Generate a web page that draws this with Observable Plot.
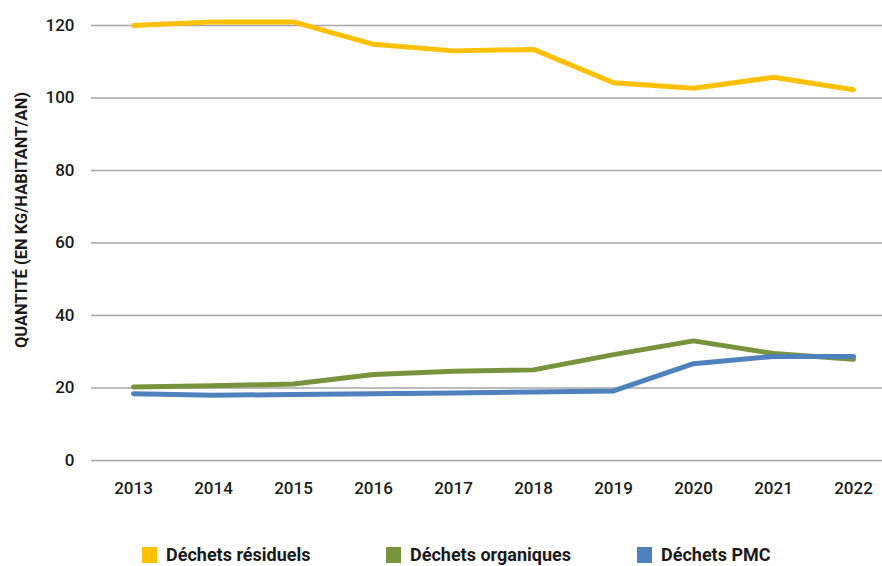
<!DOCTYPE html>
<html>
<head>
<meta charset="utf-8">
<script src="https://cdn.jsdelivr.net/npm/d3@7"></script>
<script src="https://cdn.jsdelivr.net/npm/@observablehq/plot@0.6"></script>
<style>
  html, body { margin: 0; padding: 0; background: #fff; }
  body { width: 882px; height: 566px; overflow: hidden; font-family: Roboto, "DejaVu Sans", sans-serif; }
  #legend { position: relative; height: 26px; font-weight: 700; font-size: 18px; line-height: 20px; color: #1a1a1a; }
  .item { position: absolute; top: 5px; display: flex; align-items: center; }
  .sw { width: 15px; height: 16px; margin-right: 9px; }
</style>
</head>
<body>
<div id="chart"></div>
<div id="legend"></div>
<script>
const years = ["2013","2014","2015","2016","2017","2018","2019","2020","2021","2022"];
const residuels = [120.0, 121.0, 121.0, 114.8, 113.0, 113.4, 104.2, 102.7, 105.7, 102.3];
const organiques = [20.3, 20.6, 21.1, 23.7, 24.6, 25.0, 29.2, 33.0, 29.5, 27.9];
const pmc = [18.4, 18.0, 18.2, 18.4, 18.6, 18.9, 19.2, 26.7, 28.7, 28.7];
const seriesNames = ["Déchets résiduels", "Déchets organiques", "Déchets PMC"];
const seriesColors = ["#FFC000", "#77933C", "#4F81BD"];
const yTicks = [0, 20, 40, 60, 80, 100, 120];
const yLabel = "QUANTITÉ (EN KG/HABITANT/AN)";

const allSeries = [residuels, organiques, pmc];
const rows = [];
allSeries.forEach((vals, si) => vals.forEach((v, i) => rows.push({year: years[i], value: v, series: seriesNames[si]})));

const chart = Plot.plot({
  width: 882,
  height: 540,
  marginLeft: 91,
  marginRight: -13,
  marginTop: 25,
  marginBottom: 80,
  style: {fontFamily: "Roboto, sans-serif", fontSize: "17px", color: "#1a1a1a", fontWeight: 500},
  x: {type: "point", domain: years, padding: 0.5, label: null},
  y: {domain: [0, 120], ticks: yTicks, label: null},
  color: {domain: seriesNames, range: seriesColors},
  marks: [
    Plot.ruleY(yTicks, {stroke: "#A6A6A6", strokeWidth: 1.5}),
    Plot.axisX({tickSize: 0, tickPadding: 21, fontSize: 17, label: null}),
    Plot.axisY({ticks: yTicks, tickSize: 0, tickPadding: 17, fontSize: 17, label: null}),
    Plot.line(rows, {x: "year", y: "value", z: "series", stroke: "series", strokeWidth: 5, strokeLinecap: "round", strokeLinejoin: "round"}),
    Plot.text([yLabel], {frameAnchor: "left", dx: -70, dy: -23, rotate: -90, text: d => d, fontWeight: 700, fontSize: 16.5, fill: "#1a1a1a", textAnchor: "middle"})
  ]
});
document.getElementById("chart").appendChild(chart);

const legendLefts = [142, 386, 637];
const legend = document.getElementById("legend");
seriesNames.forEach((name, i) => {
  const it = document.createElement("div");
  it.className = "item";
  it.style.left = legendLefts[i] + "px";
  const sw = document.createElement("span");
  sw.className = "sw";
  sw.style.background = seriesColors[i];
  const tx = document.createElement("span");
  tx.textContent = name;
  it.appendChild(sw);
  it.appendChild(tx);
  legend.appendChild(it);
});
</script>
</body>
</html>
